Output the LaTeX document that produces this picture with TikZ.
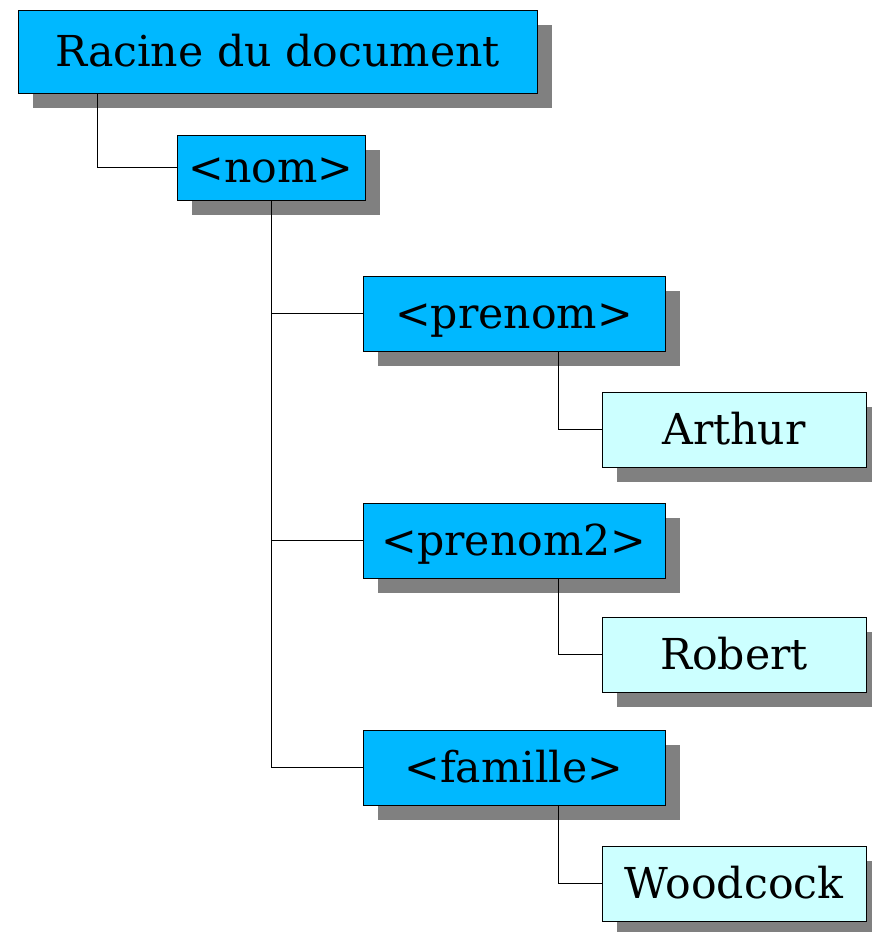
\documentclass[tikz,border=0pt]{standalone}
\usepackage{fontspec}
\setmainfont{DejaVu Serif}
\usepackage{xcolor}
\usepackage{tikz}
\usetikzlibrary{shadows,positioning}

\definecolor{elemblue}{HTML}{00B8FF}
\definecolor{textcyan}{HTML}{CCFFFF}
\definecolor{shadowgray}{HTML}{808080}

\begin{document}
\begin{tikzpicture}[
    x=0.025cm,
    y=-0.025cm,
    font=\fontsize{30.3}{36}\selectfont,
    element/.style={
        rectangle,
        draw,
        line width=0.6pt,
        fill=elemblue,
        inner sep=0pt,
        text height=25.6pt,
        text depth=4.7pt,
        drop shadow={shadow xshift=0.375cm, shadow yshift=-0.375cm,
            fill=shadowgray, opacity=1}
    },
    textval/.style={
        element,
        fill=textcyan,
        minimum width=6.6cm,
        minimum height=1.875cm
    },
    child/.style={
        element,
        minimum width=7.55cm,
        minimum height=1.875cm
    },
    line/.style={
        draw,
        line width=0.6pt
    }
]
\useasboundingbox (0,0) rectangle (872,932);

% Nodes
\node [element, minimum width=12.975cm, minimum height=2.075cm] (racine) at (277.5,51.5) {Racine du document};
\node [element, minimum width=4.7cm, minimum height=1.625cm] (nom) at (271,167.5) {<nom>};
\node [child] (prenom) at (514,313.5) {<prenom>};
\node [textval] (arthur) at (734,429.5) {Arthur};
\node [child] (prenom2) at (514,540.5) {<prenom2>};
\node [textval] (robert) at (734,654.5) {Robert};
\node [child] (famille) at (514,767.5) {<famille>};
\node [textval] (woodcock) at (734,883.5) {Woodcock};

% Edges
\path [line] ([xshift=2cm]racine.south west) |- (nom.west);
\path [line] (nom.south) |- (prenom.west);
\path [line] (nom.south) |- (prenom2.west);
\path [line] (nom.south) |- (famille.west);
\path [line] ([xshift=1.1cm]prenom.south) |- (arthur.west);
\path [line] ([xshift=1.1cm]prenom2.south) |- (robert.west);
\path [line] ([xshift=1.1cm]famille.south) |- (woodcock.west);

\end{tikzpicture}
\end{document}
